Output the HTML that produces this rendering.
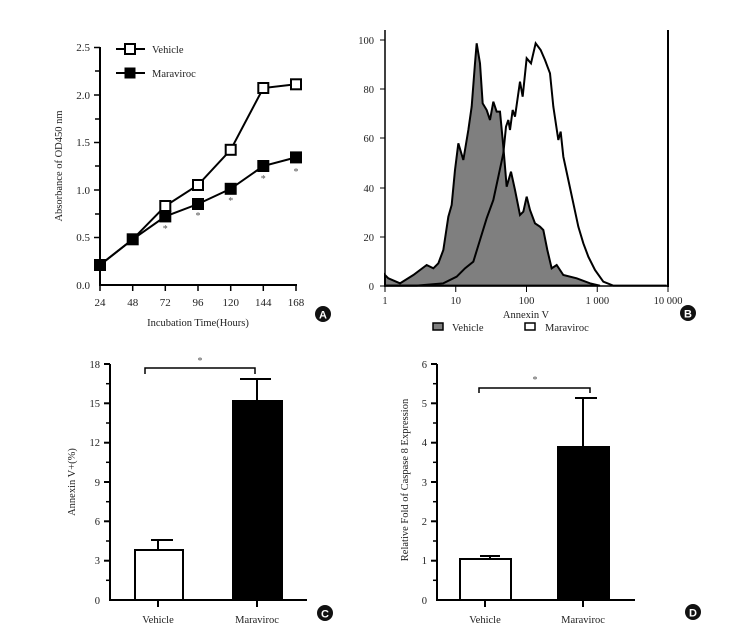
<!DOCTYPE html>
<html><head><meta charset="utf-8"><style>
html,body{margin:0;padding:0;background:#fff;}
svg{display:block;font-family:"Liberation Serif",serif;}
</style></head><body>
<svg width="754" height="636" viewBox="0 0 754 636" xmlns="http://www.w3.org/2000/svg">
<!-- Panel A -->
<g stroke="#000" stroke-width="2" fill="none">
<line x1="100" y1="47" x2="100" y2="286"/>
<line x1="99" y1="285" x2="297" y2="285"/>
<g stroke-width="1.5">
<line x1="94" y1="47.5" x2="100" y2="47.5"/><line x1="94" y1="95" x2="100" y2="95"/><line x1="94" y1="142.5" x2="100" y2="142.5"/><line x1="94" y1="190" x2="100" y2="190"/><line x1="94" y1="237.5" x2="100" y2="237.5"/>
<line x1="95" y1="71" x2="100" y2="71"/><line x1="95" y1="119" x2="100" y2="119"/><line x1="95" y1="166" x2="100" y2="166"/><line x1="95" y1="214" x2="100" y2="214"/><line x1="95" y1="261" x2="100" y2="261"/>
<line x1="100" y1="285" x2="100" y2="291"/><line x1="132.7" y1="285" x2="132.7" y2="291"/><line x1="165.3" y1="285" x2="165.3" y2="291"/><line x1="198" y1="285" x2="198" y2="291"/><line x1="230.7" y1="285" x2="230.7" y2="291"/><line x1="263.3" y1="285" x2="263.3" y2="291"/><line x1="296" y1="285" x2="296" y2="291"/>
</g>
<polyline points="100,265 132.7,239.3 165.3,206 198,185 230.7,149.8 263.3,88 296,84.3"/>
<polyline points="100,265 132.7,239.3 165.3,216.4 198,204 230.7,188.8 263.3,166 296,157.4"/>
<line x1="116" y1="49" x2="145" y2="49"/><line x1="116" y1="73" x2="145" y2="73"/>
</g>
<g fill="#000">
<rect x="94" y="259" width="12" height="12"/><rect x="126.7" y="233.3" width="12" height="12"/>
<rect x="159.3" y="210.4" width="12" height="12"/><rect x="192" y="198" width="12" height="12"/><rect x="224.7" y="182.8" width="12" height="12"/><rect x="257.3" y="160" width="12" height="12"/><rect x="290" y="151.4" width="12" height="12"/>
<rect x="124.5" y="67.5" width="11" height="11"/>
</g>
<g fill="#fff" stroke="#000" stroke-width="2">
<rect x="160.3" y="201" width="10" height="10"/><rect x="193" y="180" width="10" height="10"/><rect x="225.7" y="144.8" width="10" height="10"/><rect x="258.3" y="83" width="10" height="10"/><rect x="291" y="79.3" width="10" height="10"/>
<rect x="125" y="44" width="10" height="10"/>
</g>
<g font-size="11" fill="#222" text-anchor="end">
<text x="90" y="51">2.5</text><text x="90" y="99">2.0</text><text x="90" y="146">1.5</text><text x="90" y="194">1.0</text><text x="90" y="241">0.5</text><text x="90" y="289">0.0</text>
</g>
<g font-size="11" fill="#222" text-anchor="middle">
<text x="100" y="306">24</text><text x="132.7" y="306">48</text><text x="165.3" y="306">72</text><text x="198" y="306">96</text><text x="230.7" y="306">120</text><text x="263.3" y="306">144</text><text x="296" y="306">168</text>
<text x="198" y="326" font-size="10.5">Incubation Time(Hours)</text>
<g font-size="10" fill="#555"><text x="165.3" y="232">*</text><text x="198" y="219">*</text><text x="230.7" y="204">*</text><text x="263.3" y="182">*</text><text x="296" y="175">*</text></g>
</g>
<text x="152" y="53" font-size="10.5" fill="#222">Vehicle</text>
<text x="152" y="77" font-size="10.5" fill="#222">Maraviroc</text>
<text transform="translate(62,166) rotate(-90)" font-size="10.5" text-anchor="middle" fill="#222">Absorbance of OD450 nm</text>
<circle cx="323" cy="314" r="8" fill="#111"/><text x="323" y="318.5" font-family="Liberation Sans,sans-serif" font-weight="bold" font-size="11" fill="#fff" text-anchor="middle">A</text>

<!-- Panel B -->
<g transform="translate(350,30) scale(0.33333)">
<path fill="#7f7f7f" stroke="#000" stroke-width="2" vector-effect="non-scaling-stroke" d="M105,767 L105,735 L115,745 L150,760 L190,735 L230,705 L250,715 L265,700 L280,660 L295,560 L305,525 L315,420 L325,340 L340,390 L355,300 L365,230 L375,100 L380,40 L390,100 L398,220 L410,240 L420,270 L430,215 L440,245 L450,245 L460,350 L470,470 L483,425 L495,480 L510,555 L520,545 L530,500 L540,540 L555,580 L570,590 L580,600 L592,660 L605,715 L620,705 L640,735 L680,745 L720,760 L750,767 Z"/>
<path fill="none" stroke="#000" stroke-width="2" vector-effect="non-scaling-stroke" d="M105,767 L200,767 L280,760 L320,740 L345,715 L370,695 L390,630 L410,565 L430,510 L445,440 L460,370 L468,290 L475,270 L480,300 L488,240 L495,260 L500,225 L510,155 L518,200 L530,85 L543,100 L557,40 L572,60 L585,90 L600,130 L610,230 L625,330 L632,305 L640,380 L655,450 L670,520 L685,590 L700,640 L715,680 L735,720 L760,755 L790,767 L950,767"/>
</g>
<g stroke="#000" fill="none">
<line x1="385" y1="30" x2="385" y2="287" stroke-width="1.5"/>
<line x1="668" y1="30" x2="668" y2="287" stroke-width="2"/>
<line x1="384" y1="286" x2="669" y2="286" stroke-width="1.5"/>
<g stroke-width="1">
<line x1="380" y1="40" x2="385" y2="40"/><line x1="380" y1="89" x2="385" y2="89"/><line x1="380" y1="138" x2="385" y2="138"/><line x1="380" y1="188" x2="385" y2="188"/><line x1="380" y1="237" x2="385" y2="237"/><line x1="380" y1="286" x2="385" y2="286"/>
<line x1="385" y1="286" x2="385" y2="292"/><line x1="455.75" y1="286" x2="455.75" y2="292"/><line x1="526.5" y1="286" x2="526.5" y2="292"/><line x1="597.25" y1="286" x2="597.25" y2="292"/><line x1="668" y1="286" x2="668" y2="292"/>
</g>
</g>
<g font-size="10.5" fill="#222" text-anchor="end">
<text x="374" y="44">100</text><text x="374" y="93">80</text><text x="374" y="142">60</text><text x="374" y="192">40</text><text x="374" y="241">20</text><text x="374" y="290">0</text>
</g>
<g font-size="10.5" fill="#222" text-anchor="middle">
<text x="385" y="304">1</text><text x="455.75" y="304">10</text><text x="526.5" y="304">100</text><text x="597.25" y="304">1 000</text><text x="668" y="304">10 000</text>
<text x="526" y="318">Annexin V</text>
</g>
<rect x="433" y="323" width="10" height="7" fill="#7f7f7f" stroke="#000" stroke-width="1.5"/>
<text x="452" y="331" font-size="10.5" fill="#222">Vehicle</text>
<rect x="525" y="323" width="10" height="7" fill="#fff" stroke="#000" stroke-width="1.5"/>
<text x="545" y="331" font-size="10.5" fill="#222">Maraviroc</text>
<circle cx="688" cy="313" r="8" fill="#111"/><text x="688" y="317.5" font-family="Liberation Sans,sans-serif" font-weight="bold" font-size="11" fill="#fff" text-anchor="middle">B</text>

<!-- Panel C -->
<g stroke="#000" stroke-width="2" fill="none">
<line x1="110" y1="364" x2="110" y2="601"/>
<line x1="109" y1="600" x2="307" y2="600"/>
<line x1="104" y1="364" x2="110" y2="364"/><line x1="104" y1="403.3" x2="110" y2="403.3"/><line x1="104" y1="442.7" x2="110" y2="442.7"/><line x1="104" y1="482" x2="110" y2="482"/><line x1="104" y1="521.3" x2="110" y2="521.3"/><line x1="104" y1="560.7" x2="110" y2="560.7"/>
<g stroke-width="1.5"><line x1="106" y1="383.7" x2="110" y2="383.7"/><line x1="106" y1="423" x2="110" y2="423"/><line x1="106" y1="462.3" x2="110" y2="462.3"/><line x1="106" y1="501.7" x2="110" y2="501.7"/><line x1="106" y1="541" x2="110" y2="541"/><line x1="106" y1="580.3" x2="110" y2="580.3"/></g>
<line x1="158" y1="600" x2="158" y2="607"/><line x1="257" y1="600" x2="257" y2="607"/>
<line x1="158" y1="550" x2="158" y2="540"/><line x1="151" y1="540" x2="173" y2="540"/>
<line x1="257" y1="401" x2="257" y2="379"/><line x1="240" y1="379" x2="271" y2="379"/>
<rect x="135" y="550" width="48" height="50" fill="#fff"/>
<rect x="233" y="401" width="49" height="199" fill="#000"/>
<polyline stroke-width="1.5" points="145,374 145,368 255,368 255,374"/>
</g>
<text x="200" y="364" font-size="10" fill="#555" text-anchor="middle">*</text>
<g font-size="10.5" fill="#222" text-anchor="end">
<text x="100" y="368">18</text><text x="100" y="407">15</text><text x="100" y="446">12</text><text x="100" y="486">9</text><text x="100" y="525">6</text><text x="100" y="564">3</text><text x="100" y="604">0</text>
</g>
<g font-size="10.5" fill="#222" text-anchor="middle"><text x="158" y="623">Vehicle</text><text x="257" y="623">Maraviroc</text></g>
<text transform="translate(75,482) rotate(-90)" font-size="10.5" text-anchor="middle" fill="#222">Annexin V+(%)</text>
<circle cx="325" cy="613" r="8" fill="#111"/><text x="325" y="617.5" font-family="Liberation Sans,sans-serif" font-weight="bold" font-size="11" fill="#fff" text-anchor="middle">C</text>

<!-- Panel D -->
<g stroke="#000" stroke-width="2" fill="none">
<line x1="437" y1="364" x2="437" y2="601"/>
<line x1="436" y1="600" x2="635" y2="600"/>
<line x1="431" y1="364" x2="437" y2="364"/><line x1="431" y1="403.3" x2="437" y2="403.3"/><line x1="431" y1="442.7" x2="437" y2="442.7"/><line x1="431" y1="482" x2="437" y2="482"/><line x1="431" y1="521.3" x2="437" y2="521.3"/><line x1="431" y1="560.7" x2="437" y2="560.7"/>
<g stroke-width="1.5"><line x1="433" y1="383.7" x2="437" y2="383.7"/><line x1="433" y1="423" x2="437" y2="423"/><line x1="433" y1="462.3" x2="437" y2="462.3"/><line x1="433" y1="501.7" x2="437" y2="501.7"/><line x1="433" y1="541" x2="437" y2="541"/><line x1="433" y1="580.3" x2="437" y2="580.3"/></g>
<line x1="485" y1="600" x2="485" y2="607"/><line x1="583" y1="600" x2="583" y2="607"/>
<line x1="490" y1="559" x2="490" y2="556"/><line x1="480" y1="556" x2="500" y2="556"/>
<line x1="583" y1="447" x2="583" y2="398"/><line x1="575" y1="398" x2="597" y2="398"/>
<rect x="460" y="559" width="51" height="41" fill="#fff"/>
<rect x="558" y="447" width="51" height="153" fill="#000"/>
<polyline stroke-width="1.5" points="479,393 479,388 590,388 590,393"/>
</g>
<text x="535" y="383" font-size="10" fill="#555" text-anchor="middle">*</text>
<g font-size="10.5" fill="#222" text-anchor="end">
<text x="427" y="368">6</text><text x="427" y="407">5</text><text x="427" y="446">4</text><text x="427" y="486">3</text><text x="427" y="525">2</text><text x="427" y="564">1</text><text x="427" y="604">0</text>
</g>
<g font-size="10.5" fill="#222" text-anchor="middle"><text x="485" y="623">Vehicle</text><text x="583" y="623">Maraviroc</text></g>
<text transform="translate(408,480) rotate(-90)" font-size="10.5" text-anchor="middle" fill="#222">Relative Fold of Caspase 8 Expression</text>
<circle cx="693" cy="612" r="8" fill="#111"/><text x="693" y="616.5" font-family="Liberation Sans,sans-serif" font-weight="bold" font-size="11" fill="#fff" text-anchor="middle">D</text>
</svg>
</body></html>
